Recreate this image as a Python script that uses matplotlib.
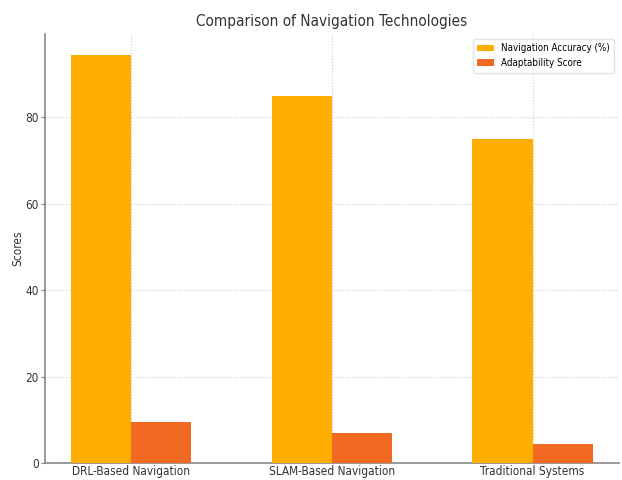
import matplotlib
matplotlib.use("Agg")
import matplotlib.pyplot as plt
import numpy as np

categories = ["DRL-Based Navigation", "SLAM-Based Navigation", "Traditional Systems"]
accuracy = [94.5, 85, 75]
adaptability = [9.5, 7, 4.5]
series_labels = ["Navigation Accuracy (%)", "Adaptability Score"]

plt.rcParams["font.family"] = ["DejaVu Sans"]
plt.rcParams["font.stretch"] = "condensed"

fig = plt.figure(figsize=(6.22, 4.8), dpi=100)
ax = fig.add_axes([0.0723, 0.0354, 0.9227, 0.8936])

x = np.arange(len(categories))
w = 0.3
ax.bar(x - w / 2, accuracy, w, color="#FFAE00", label=series_labels[0], zorder=3)
ax.bar(x + w / 2, adaptability, w, color="#F26A22", label=series_labels[1], zorder=3)

ax.set_xticks(x)
ax.set_xticklabels(categories, fontsize=8.5, color="#333333")
ax.set_yticks([0, 20, 40, 60, 80])
ax.tick_params(axis="y", labelsize=8.5, labelcolor="#333333", length=3, color="#888888", pad=1.5)
ax.tick_params(axis="x", length=0, pad=1.5)
ax.set_ylabel("Scores", fontsize=8.5, color="#333333", labelpad=1)
ax.set_title("Comparison of Navigation Technologies", fontsize=11, color="#333333", pad=6)

ax.grid(True, linestyle=":", color="#cccccc", linewidth=0.8, zorder=0)
for s in ["top", "right"]:
    ax.spines[s].set_visible(False)
for s in ["left", "bottom"]:
    ax.spines[s].set_color("#888888")
    ax.spines[s].set_linewidth(1.2)

leg = ax.legend(loc="upper right", fontsize=7, frameon=True, handlelength=1.75,
                borderpad=0.45, handletextpad=0.7, borderaxespad=0.5)
leg.get_frame().set_edgecolor("#dddddd")

fig.savefig("out.png", dpi=100)
